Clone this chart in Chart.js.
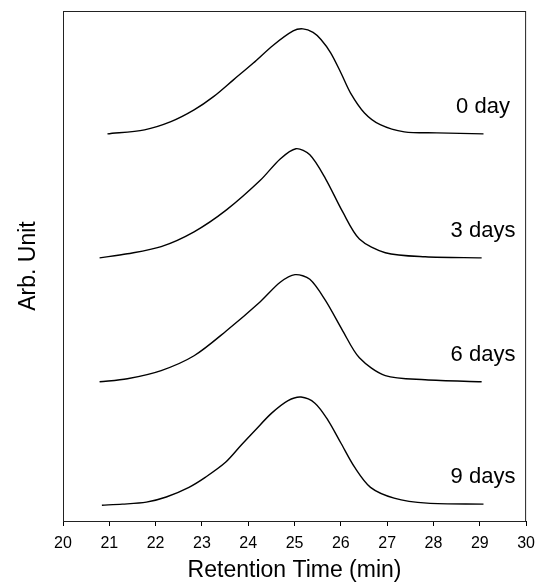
<!DOCTYPE html>
<html>
<head>
<meta charset="utf-8">
<script src="https://cdn.jsdelivr.net/npm/chart.js@4/dist/chart.umd.min.js"></script>
<style>
  html, body { margin: 0; padding: 0; background: #fff; }
  #wrap { width: 543px; height: 584px; position: relative; }
</style>
</head>
<body>
<div id="wrap"><canvas id="c" width="543" height="584"></canvas></div>
<script>
// Series names
const seriesNames = ['0 day', '3 days', '6 days', '9 days'];

// Retention time (min) and detector response (Arb. Unit, stacked traces)
const time0 = [20.96, 21.76, 22.33, 22.83, 23.25, 23.68, 24.11, 24.54, 24.97, 25.18, 25.40, 25.57, 25.78, 26.00, 26.21, 26.51, 26.85, 27.37, 28.07, 29.08];
const day0  = [75.9, 76.7, 78.3, 80.6, 83.2, 86.5, 89.8, 93.3, 96.1, 96.5, 95.8, 94.4, 91.8, 87.9, 83.9, 80.0, 77.7, 76.3, 76.1, 75.9];

const time3 = [20.79, 21.39, 22.12, 22.83, 23.53, 24.26, 24.69, 25.03, 25.33, 25.67, 26.04, 26.40, 26.96, 27.82, 29.04];
const day3  = [51.6, 52.4, 53.8, 56.7, 61.0, 66.8, 71.0, 73.0, 71.8, 67.1, 60.6, 55.3, 52.6, 51.8, 51.6];

const time6 = [20.79, 21.39, 22.12, 22.83, 23.53, 24.26, 24.69, 25.01, 25.33, 25.67, 26.04, 26.40, 26.96, 27.82, 29.04];
const day6  = [27.3, 27.9, 29.5, 32.4, 37.3, 43.0, 46.8, 48.3, 47.4, 43.2, 37.3, 32.0, 28.5, 27.7, 27.3];

const time9 = [20.84, 21.28, 21.80, 22.23, 22.72, 23.08, 23.51, 23.85, 24.15, 24.50, 24.86, 25.14, 25.44, 25.72, 26.00, 26.30, 26.64, 27.15, 27.86, 29.08];
const day9  = [3.1, 3.3, 3.7, 4.7, 6.6, 8.6, 11.5, 14.9, 17.8, 21.1, 23.6, 24.3, 23.1, 19.8, 15.3, 10.5, 6.6, 4.5, 3.5, 3.3];

// X axis tick values
const xTicks = [20, 21, 22, 23, 24, 25, 26, 27, 28, 29, 30];

const times = [time0, time3, time6, time9];
const values = [day0, day3, day6, day9];

const FONT = "'Liberation Sans', Arial, Helvetica, sans-serif";

const datasets = seriesNames.map((name, i) => ({
  label: name,
  data: times[i].map((t, j) => ({ x: t, y: values[i][j] })),
  borderColor: '#000',
  borderWidth: 1.4,
  pointRadius: 0,
  fill: false,
  tension: 0.3,
  showLine: true
}));

const frameAndLabels = {
  id: 'frameAndLabels',
  afterDatasetsDraw(chart) {
    const { ctx, chartArea: a, scales } = chart;
    ctx.save();
    ctx.strokeStyle = '#222';
    ctx.lineWidth = 1;
    ctx.strokeRect(a.left + 0.5, a.top + 0.5, a.right - a.left - 1, a.bottom - a.top);
    ctx.fillStyle = '#000';
    ctx.font = '22px ' + FONT;
    ctx.textAlign = 'center';
    ctx.textBaseline = 'middle';
    chart.data.datasets.forEach((ds) => {
      const last = ds.data[ds.data.length - 1];
      const px = scales.x.getPixelForValue(29.07);
      const py = scales.y.getPixelForValue(last.y + 5.3);
      ctx.fillText(ds.label, px, py);
    });
    ctx.restore();
  }
};

new Chart(document.getElementById('c'), {
  type: 'line',
  data: { datasets },
  plugins: [frameAndLabels],
  options: {
    responsive: false,
    animation: false,
    layout: { padding: { top: 11, right: 13, left: 0, bottom: 0 } },
    plugins: { legend: { display: false }, tooltip: { enabled: false } },
    scales: {
      x: {
        type: 'linear',
        min: 20,
        max: 30,
        afterBuildTicks: (s) => { s.ticks = xTicks.map(v => ({ value: v })); },
        afterFit: (s) => { s.height = 63; },
        grid: { display: true, drawOnChartArea: false, drawTicks: true, tickLength: 5, color: '#000', tickWidth: 1 },
        border: { display: true, color: '#000', width: 1 },
        ticks: { color: '#000', font: { family: FONT, size: 16 }, padding: 8, maxRotation: 0, autoSkip: false },
        title: { display: true, text: 'Retention Time (min)', color: '#000', font: { family: FONT, size: 23 }, padding: { top: 2, bottom: 0 } }
      },
      y: {
        type: 'linear',
        min: 0,
        max: 100,
        afterFit: (s) => { s.width = 63; },
        grid: { display: false },
        border: { display: true, color: '#000', width: 1 },
        ticks: { display: false },
        title: { display: true, text: 'Arb. Unit', color: '#000', font: { family: FONT, size: 23 }, padding: { top: 15, bottom: 0 } }
      }
    }
  }
});
</script>
</body>
</html>
